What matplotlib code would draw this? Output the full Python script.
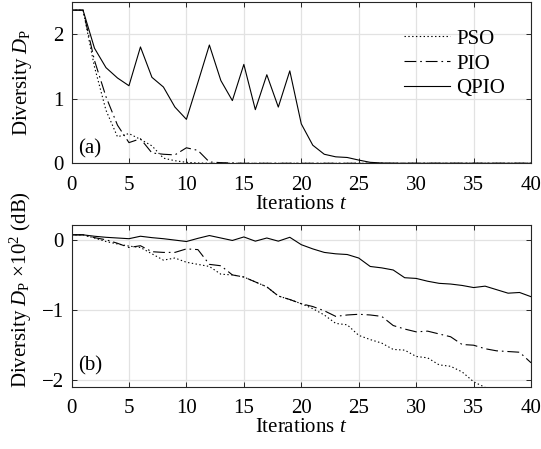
import matplotlib
matplotlib.use("Agg")
import matplotlib.pyplot as plt
import numpy as np

plt.rcParams['font.family'] = ['Liberation Serif', 'DejaVu Serif']
plt.rcParams['mathtext.fontset'] = 'custom'
plt.rcParams['mathtext.rm'] = 'Liberation Serif'
plt.rcParams['mathtext.it'] = 'Liberation Serif:italic'
plt.rcParams['font.size'] = 15
plt.rcParams['lines.scale_dashes'] = False

# iterations
t = np.arange(41)

# (a) diversity D_P
pso_a = [2.37, 2.37, 1.49, 0.82, 0.41, 0.46, 0.37, 0.27, 0.08, 0.04, 0.015, 0.005] + [0.0] * 29
pio_a = [2.37, 2.37, 1.59, 1.03, 0.59, 0.32, 0.38, 0.16, 0.14, 0.13, 0.24, 0.2, 0.02, 0.01, 0.005] + [0.0] * 26
qpio_a = [2.37, 2.37, 1.78, 1.48, 1.32, 1.2, 1.8, 1.33, 1.18, 0.87, 0.68, 1.25, 1.83, 1.28, 0.97,
          1.53, 0.83, 1.37, 0.87, 1.43, 0.61, 0.28, 0.14, 0.10, 0.09, 0.05, 0.015, 0.005] + [0.0] * 13

# (b) diversity D_P x10^2 (dB)
pso_b = [0.07, 0.07, 0.025, -0.025, -0.06, -0.09, -0.11, -0.2, -0.29, -0.26, -0.32, -0.35, -0.38,
         -0.49, -0.5, -0.53, -0.6, -0.67, -0.8, -0.85, -0.91, -0.98, -1.07, -1.19, -1.21, -1.36,
         -1.42, -1.47, -1.56, -1.57, -1.66, -1.68, -1.78, -1.8, -1.88, -2.02, -2.1, -2.17, -2.25,
         -2.3, -2.38]
pio_b = [0.07, 0.07, 0.03, 0.0, -0.05, -0.11, -0.085, -0.17, -0.18, -0.18, -0.13, -0.14, -0.35,
         -0.37, -0.5, -0.53, -0.6, -0.67, -0.8, -0.85, -0.91, -0.95, -1.01, -1.09, -1.07, -1.06,
         -1.07, -1.09, -1.22, -1.27, -1.31, -1.30, -1.34, -1.38, -1.49, -1.5, -1.55, -1.58, -1.59,
         -1.6, -1.75]
qpio_b = [0.07, 0.07, 0.05, 0.035, 0.025, 0.015, 0.05, 0.03, 0.015, -0.005, -0.025, 0.02, 0.06,
          0.025, -0.01, 0.04, -0.02, 0.025, -0.02, 0.035, -0.07, -0.13, -0.18, -0.2, -0.21, -0.26,
          -0.38, -0.4, -0.43, -0.54, -0.55, -0.59, -0.62, -0.63, -0.65, -0.68, -0.66, -0.71, -0.76,
          -0.75, -0.81]

labels = ['PSO', 'PIO', 'QPIO']
styles = [(0, (1.0, 1.75)), (0, (8.5, 2.8, 1.2, 2.8)), '-']

fig = plt.figure(figsize=(5.41, 4.49), dpi=100)
ax1 = fig.add_axes([0.1322, 0.6363, 0.8494, 0.3599])
ax2 = fig.add_axes([0.1322, 0.1388, 0.8494, 0.3601])

lw = 0.8
for ax, series in [(ax1, [pso_a, pio_a, qpio_a]), (ax2, [pso_b, pio_b, qpio_b])]:
    for ys, ls, lab in zip(series, styles, labels):
        ax.plot(t, ys, color='black', linestyle=ls, linewidth=lw, label=lab)
    ax.set_xlim(0, 40)
    ax.set_xticks(np.arange(0, 41, 5))
    ax.grid(True, color='#e2e2e2', linewidth=0.9)
    ax.set_axisbelow(True)
    ax.tick_params(direction='in', top=True, right=True, length=3.5, width=0.7,
                   color='#262626')
    ax.tick_params(axis='x', pad=9)
    ax.tick_params(axis='y', pad=5.5)
    for sp in ax.spines.values():
        sp.set_linewidth(0.8)
        sp.set_color('#262626')
    ax.set_xlabel('Iterations $t$', labelpad=0)

ax1.set_ylim(0, 2.5)
ax1.set_yticks([0, 1, 2])
ax1.set_ylabel(r'Diversity $D_\mathrm{P}$')
ax1.yaxis.set_label_coords(-0.082, 0.5)
ax1.text(0.55, 0.23, '(a)', va='center', ha='left')
ax1.legend(loc='upper left', bbox_to_anchor=(0.7236, 0.83), frameon=False, borderpad=0,
           handlelength=2.2, handletextpad=0.3, labelspacing=0.25, borderaxespad=0)

ax2.set_ylim(-2.09, 0.21)
ax2.set_yticks([-2, -1, 0])
ax2.set_ylabel(r'Diversity $D_\mathrm{P}$ $\times10^2$ (dB)')
ax2.yaxis.set_label_coords(-0.082, 0.6)
ax2.text(0.55, -1.8, '(b)', va='center', ha='left')

fig.savefig('out.png', dpi=100)
